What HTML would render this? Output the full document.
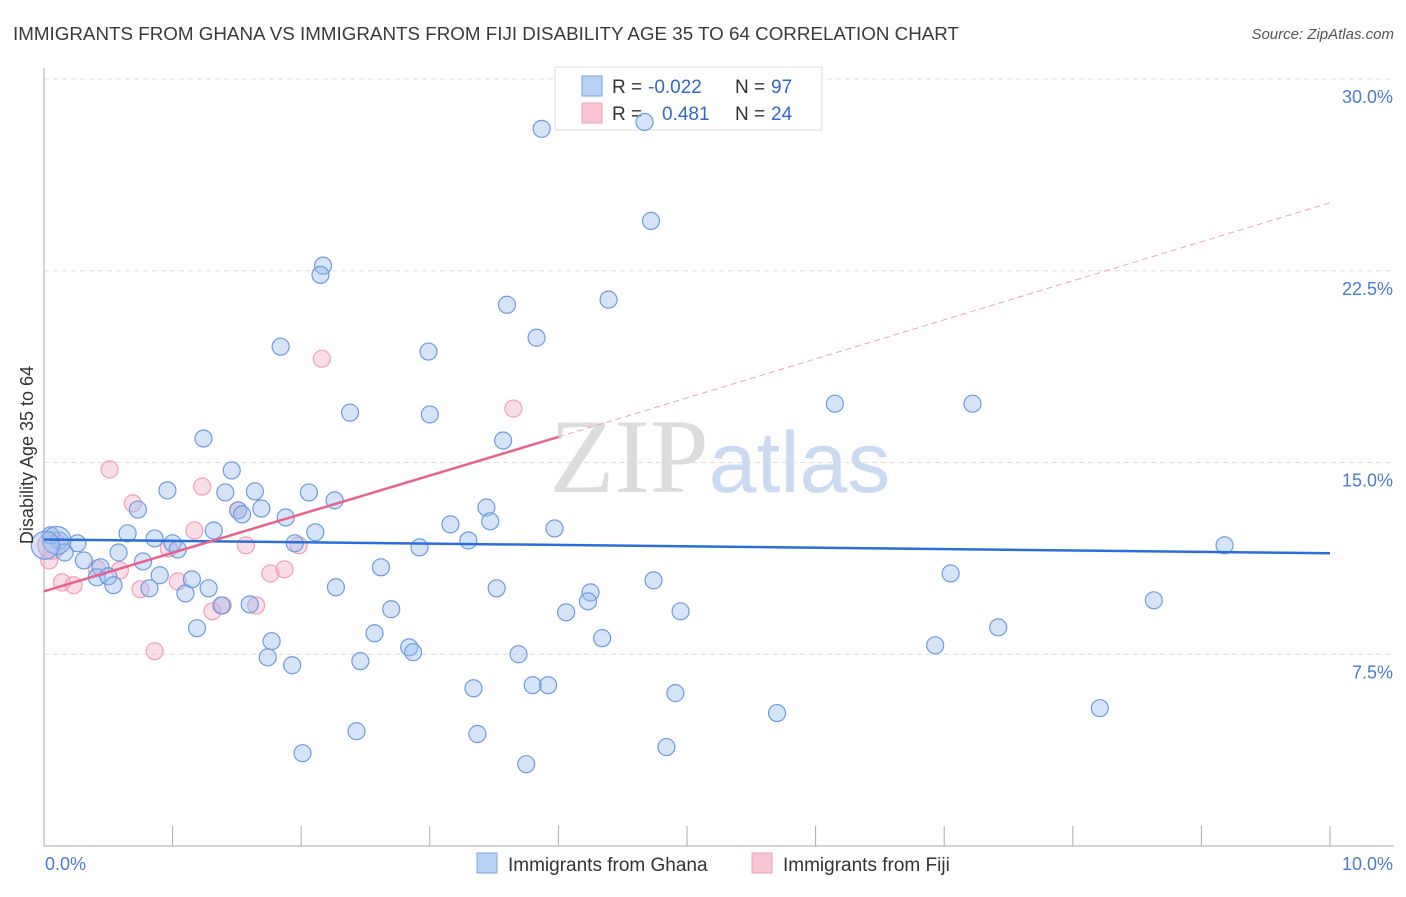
<!DOCTYPE html>
<html><head><meta charset="utf-8"><style>
body{margin:0;background:#fff;font-family:"Liberation Sans",sans-serif;}
</style></head><body>
<svg id="chart" width="1406" height="892" xmlns="http://www.w3.org/2000/svg" font-family="Liberation Sans, sans-serif">
<text x="13" y="40" font-size="18" fill="#3a3a3a" textLength="946" lengthAdjust="spacingAndGlyphs">IMMIGRANTS FROM GHANA VS IMMIGRANTS FROM FIJI DISABILITY AGE 35 TO 64 CORRELATION CHART</text>
<text x="1394" y="39" font-size="15" fill="#555" text-anchor="end" font-style="italic">Source: ZipAtlas.com</text>
<text x="720" y="492" font-size="106" text-anchor="middle"><tspan fill="#dcdcdc" font-family="Liberation Serif, serif">ZIP</tspan><tspan fill="#c9daf2" font-size="86">atlas</tspan></text>
<g id="grid"></g>
<g id="axes"></g>
<g>
<rect x="555" y="67" width="267" height="63" fill="#fff" stroke="#ddd"/>
<rect x="582" y="76" width="20" height="20" fill="#b8d1f5" stroke="#7aa3e0"/>
<rect x="582" y="103" width="20" height="20" fill="#f9c6d5" stroke="#eea0b8"/>
<text x="612" y="93" font-size="19" fill="#333">R =</text>
<text x="648" y="93" font-size="19" fill="#3366cc">-0.022</text>
<text x="735" y="93" font-size="19" fill="#333">N =</text>
<text x="771" y="93" font-size="19" fill="#3366cc">97</text>
<text x="612" y="120" font-size="19" fill="#333">R =</text>
<text x="662" y="120" font-size="19" fill="#3366cc">0.481</text>
<text x="735" y="120" font-size="19" fill="#333">N =</text>
<text x="771" y="120" font-size="19" fill="#3366cc">24</text>
</g>
<g id="pts"></g>
<g id="lines"></g>
<text transform="translate(33,455) rotate(-90)" font-size="18" fill="#333" text-anchor="middle">Disability Age 35 to 64</text>
<g>
<rect x="477" y="853" width="20" height="20" fill="#b8d1f5" stroke="#7aa3e0"/>
<text x="508" y="871" font-size="19" fill="#333">Immigrants from Ghana</text>
<rect x="752" y="853" width="20" height="20" fill="#f9c6d5" stroke="#eea0b8"/>
<text x="783" y="871" font-size="19" fill="#333">Immigrants from Fiji</text>
</g>
</svg>
<script>
const yTicks=[7.5,15,22.5,30];
const yTickLabels=["7.5%","15.0%","22.5%","30.0%"];
const xTickCount=10;
const ghanaX=[3.87,4.67,4.72,2.17,2.15,3.60,4.39,3.83,1.84,2.99,2.38,3.00,3.57,1.24,1.46,0.96,1.41,1.64,2.06,2.26,0.73,1.51,1.54,1.69,1.88,3.44,3.47,3.16,3.97,0.65,1.32,2.11,0.86,1.00,1.04,1.95,3.30,2.92,0.26,0.12,0.05,0.16,0.31,0.58,0.77,0.44,0.41,0.50,0.54,0.90,1.15,0.82,1.10,1.28,2.27,2.62,3.52,4.25,4.23,4.74,7.05,9.18,8.63,4.06,4.95,2.70,1.38,1.60,1.19,2.57,4.34,7.42,1.77,2.84,2.87,1.74,1.93,2.46,3.69,6.93,3.34,3.80,3.92,4.91,5.70,8.21,2.43,3.37,2.01,4.84,3.75,6.15,7.22,0.10,0.01];
const ghanaY=[28.05,28.32,24.45,22.70,22.34,21.17,21.37,19.88,19.53,19.34,16.95,16.88,15.86,15.94,14.69,13.91,13.83,13.87,13.83,13.52,13.16,13.13,12.97,13.20,12.85,13.24,12.70,12.58,12.42,12.23,12.34,12.27,12.03,11.84,11.60,11.84,11.95,11.68,11.84,11.95,12.15,11.48,11.17,11.48,11.13,10.90,10.51,10.55,10.20,10.59,10.43,10.08,9.88,10.08,10.12,10.90,10.08,9.92,9.57,10.39,10.66,11.76,9.61,9.14,9.18,9.26,9.41,9.45,8.52,8.32,8.13,8.55,8.01,7.77,7.58,7.38,7.07,7.23,7.50,7.85,6.17,6.29,6.29,5.98,5.20,5.39,4.49,4.38,3.63,3.87,3.20,17.30,17.30,11.95,11.76];
const fijiX=[0.51,0.69,1.23,1.51,1.17,0.97,1.57,1.98,2.16,3.65,0.04,0.14,0.23,0.41,0.59,1.04,0.75,1.76,1.87,1.31,1.39,1.65,0.86,0.06];
const fijiY=[14.73,13.40,14.06,13.13,12.34,11.64,11.76,11.76,19.06,17.11,11.17,10.31,10.20,10.86,10.78,10.35,10.04,10.66,10.82,9.18,9.41,9.41,7.62,11.76];
const ghanaTrend=[[0,11.99],[10,11.45]];
const fijiTrend=[[0,9.96],[4.0,16.0],[10,25.16]];
const NS="http://www.w3.org/2000/svg";
const X0=44,X1=1330,Y0=846,Y30=79;
const sx=v=>X0+(X1-X0)*v/10;
const sy=v=>Y0-(Y0-Y30)*v/30;
function mk(tag,attrs,parent){const e=document.createElementNS(NS,tag);for(const k in attrs)e.setAttribute(k,attrs[k]);parent.appendChild(e);return e;}
const grid=document.getElementById('grid'),axes=document.getElementById('axes'),pts=document.getElementById('pts'),lines=document.getElementById('lines');
yTicks.forEach((t,i)=>{
 const l=mk('line',{x1:X0,x2:1394,y1:sy(t),y2:sy(t),stroke:'#ddd','stroke-dasharray':'5,4'},grid);
 
 
 const tx=mk('text',{x:1393,y:sy(t)+24,'font-size':18,fill:'#4a7bd0','text-anchor':'end'},axes);
 tx.textContent=yTickLabels[i];
 
 
});
const ya=mk('line',{x1:X0,x2:X0,y1:68,y2:Y0,stroke:'#aaa'},axes);


const xa=mk('line',{x1:X0,x2:1394,y1:Y0,y2:Y0,stroke:'#aaa'},axes);


for(let i=1;i<=xTickCount;i++){
 const t=mk('line',{x1:sx(i),x2:sx(i),y1:826,y2:Y0,stroke:'#aaa'},axes);
 
 
}
[[X0+1,'start','0.0%'],[1393,'end','10.0%']].forEach(a=>{
 const t=mk('text',{x:a[0],y:870,'font-size':18,fill:'#4a7bd0','text-anchor':a[1]},axes);
 t.textContent=a[2];
 
 
});
fijiX.forEach((x,i)=>{
 const c=mk('circle',{cx:sx(x),cy:sy(fijiY[i]),r:i===fijiX.length-1?14:8.5,fill:'rgba(246,170,195,0.4)',stroke:'#f0a0b8','stroke-width':1.2},pts);
 
 
});
ghanaX.forEach((x,i)=>{
 const big=i>=ghanaX.length-2;
 const c=mk('circle',{cx:sx(x),cy:sy(ghanaY[i]),r:big?14:8.5,fill:'rgba(150,188,240,0.4)',stroke:'#6d9be0','stroke-width':1.2},pts);
 
 
});
const gl=mk('line',{x1:sx(ghanaTrend[0][0]),y1:sy(ghanaTrend[0][1]),x2:sx(ghanaTrend[1][0]),y2:sy(ghanaTrend[1][1]),stroke:'#2a6fd6','stroke-width':2.5},lines);


const fl=mk('line',{x1:sx(fijiTrend[0][0]),y1:sy(fijiTrend[0][1]),x2:sx(fijiTrend[1][0]),y2:sy(fijiTrend[1][1]),stroke:'#e8618f','stroke-width':2.5},lines);


const fd=mk('line',{x1:sx(fijiTrend[1][0]),y1:sy(fijiTrend[1][1]),x2:sx(fijiTrend[2][0]),y2:sy(fijiTrend[2][1]),stroke:'#eea0b8','stroke-width':1,'stroke-dasharray':'6,4'},lines);


</script>
</body></html>
